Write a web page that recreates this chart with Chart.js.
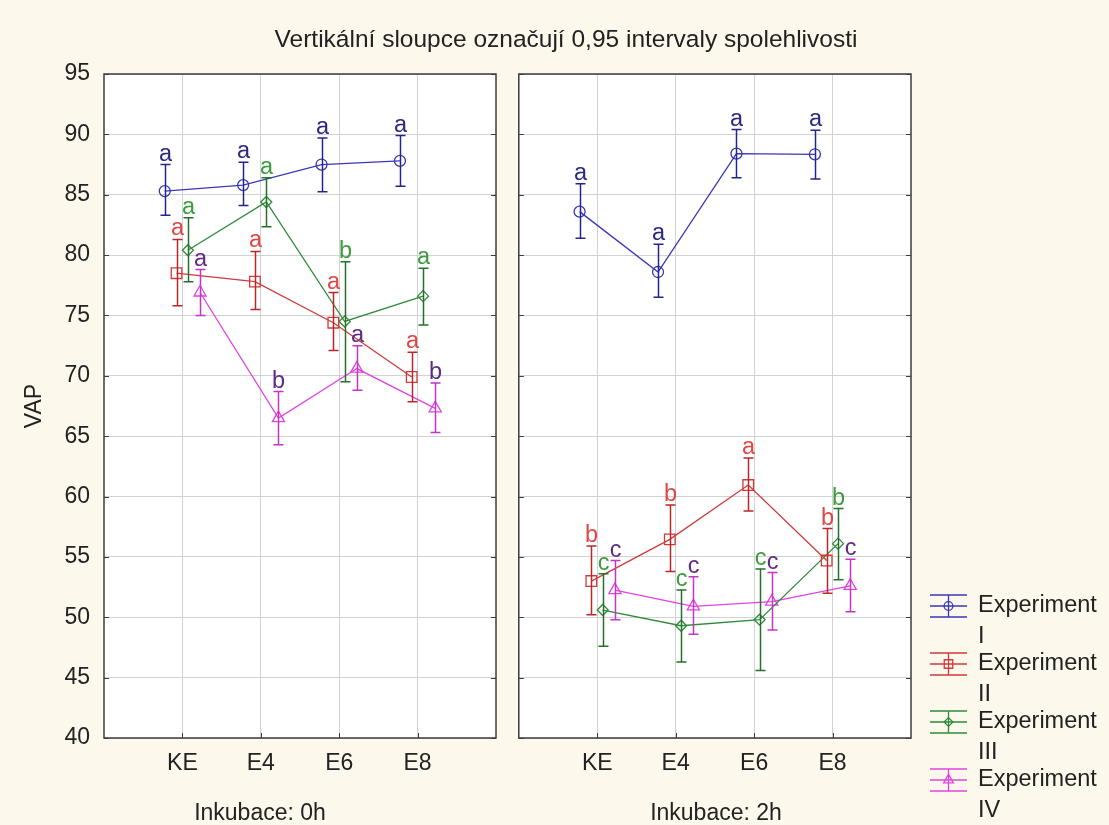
<!DOCTYPE html>
<html>
<head>
<meta charset="utf-8">
<script src="https://cdn.jsdelivr.net/npm/chart.js@4.4.0/dist/chart.umd.min.js"></script>
<style>
    html, body { margin: 0; padding: 0; }
    body {
        width: 1109px; height: 825px; overflow: hidden; position: relative;
        background: #fcf8ec; color: #222;
        font-family: "Liberation Sans", Arial, sans-serif;
    }
    .wrap { position: absolute; top: 0; }
    #wrapA { left: 0; width: 510px; height: 825px; }
    #wrapB { left: 510px; width: 599px; height: 825px; }
    .txt { position: absolute; white-space: nowrap; transform: translateX(-50%); }
    #title { left: 566px; top: 27px; font-size: 24.5px; line-height: 24px; }
    #sub0 { left: 260px; top: 801px; font-size: 23px; line-height: 23px; }
    #sub2 { left: 716px; top: 801px; font-size: 23px; line-height: 23px; }
</style>
</head>
<body>
<div class="wrap" id="wrapA"><canvas id="chart0h" width="510" height="825"></canvas></div>
<div class="wrap" id="wrapB"><canvas id="chart2h" width="599" height="825"></canvas></div>
<div class="txt" id="title">Vertikální sloupce označují 0,95 intervaly spolehlivosti</div>
<div class="txt" id="sub0">Inkubace: 0h</div>
<div class="txt" id="sub2">Inkubace: 2h</div>

<script>
// ===== Data =====
const categories = ['KE', 'E4', 'E6', 'E8'];
const yMin = 40, yMax = 95, yStep = 5;
const seriesNames = [['Experiment', 'I'], ['Experiment', 'II'], ['Experiment', 'III'], ['Experiment', 'IV']];
const xOffsets = [-0.225, -0.075, 0.07, 0.225];

// Inkubace: 0h
const mean0I   = [85.3, 85.8, 87.5, 87.8];
const low0I    = [83.3, 84.1, 85.25, 85.7];
const high0I   = [87.5, 87.7, 89.7, 89.9];
const sig0I    = ['a', 'a', 'a', 'a'];

const mean0II  = [78.5, 77.8, 74.4, 69.9];
const low0II   = [75.8, 75.5, 72.1, 67.85];
const high0II  = [81.3, 80.3, 76.9, 71.95];
const sig0II   = ['a', 'a', 'a', 'a'];

const mean0III = [80.4, 84.4, 74.5, 76.6];
const low0III  = [77.8, 82.35, 69.5, 74.2];
const high0III = [83.1, 86.4, 79.45, 78.9];
const sig0III  = ['a', 'a', 'b', 'a'];

const mean0IV  = [76.9, 66.5, 70.6, 67.3];
const low0IV   = [75.0, 64.3, 68.8, 65.3];
const high0IV  = [78.8, 68.7, 72.5, 69.4];
const sig0IV   = ['a', 'b', 'a', 'b'];

// Inkubace: 2h
const mean2I   = [83.6, 78.6, 88.4, 88.35];
const low2I    = [81.4, 76.5, 86.4, 86.3];
const high2I   = [85.9, 80.9, 90.4, 90.35];
const sig2I    = ['a', 'a', 'a', 'a'];

const mean2II  = [53.0, 56.45, 60.95, 54.7];
const low2II   = [50.2, 53.8, 58.8, 52.0];
const high2II  = [55.9, 59.3, 63.2, 57.35];
const sig2II   = ['b', 'b', 'a', 'b'];

const mean2III = [50.6, 49.3, 49.8, 56.1];
const low2III  = [47.6, 46.3, 45.6, 53.1];
const high2III = [53.6, 52.25, 54.0, 59.0];
const sig2III  = ['c', 'c', 'c', 'b'];

const mean2IV  = [52.25, 50.9, 51.3, 52.6];
const low2IV   = [49.8, 48.6, 48.95, 50.45];
const high2IV  = [54.7, 53.35, 53.7, 54.8];
const sig2IV   = ['c', 'c', 'c', 'c'];

// ===== Styles =====
const lineColors   = ['#3838b8', '#d23a3a', '#2f8a3a', '#e044e0'];
const barColors    = ['#24248a', '#b82828', '#24702c', '#c634c6'];
const letterColors = ['#2a2a7e', '#e04848', '#3c9c3c', '#5e2c82'];
const pointStyles  = ['circle', 'rect', 'rectRot', 'triangle'];
const pointSizes   = [5.5, 7.5, 5.5, 7];
const FONT = '"Liberation Sans", Arial, sans-serif';
const TEXT = '#222';

function buildDatasets(means, lows, highs, sigs) {
    return means.map((m, s) => ({
        label: seriesNames[s].join(' '),
        data: m.map((v, i) => ({ x: i + 1 + xOffsets[s], y: v })),
        lows: lows[s],
        highs: highs[s],
        sigs: sigs[s],
        series: s,
        borderColor: lineColors[s],
        borderWidth: 1.3,
        tension: 0,
        pointStyle: pointStyles[s],
        pointRadius: pointSizes[s],
        pointBorderColor: lineColors[s],
        pointBorderWidth: 1.3,
        pointBackgroundColor: 'rgba(0,0,0,0)'
    }));
}

function drawMarker(ctx, style, r, x, y) {
    ctx.beginPath();
    if (style === 'circle') {
        ctx.arc(x, y, r, 0, Math.PI * 2);
    } else if (style === 'rect') {
        const h = r * Math.SQRT1_2;
        ctx.rect(x - h, y - h, 2 * h, 2 * h);
    } else if (style === 'rectRot') {
        ctx.moveTo(x, y - r); ctx.lineTo(x + r, y); ctx.lineTo(x, y + r); ctx.lineTo(x - r, y); ctx.closePath();
    } else {
        const a = Math.PI / 6;
        ctx.moveTo(x, y - r);
        ctx.lineTo(x + r * Math.cos(a), y + r * Math.sin(a));
        ctx.lineTo(x - r * Math.cos(a), y + r * Math.sin(a));
        ctx.closePath();
    }
    ctx.stroke();
}

// ===== Plugin: panel background, error bars, letters, frame, legend =====
const panelDecor = {
    id: 'panelDecor',
    beforeDraw(chart) {
        const { ctx, chartArea: a } = chart;
        ctx.save();
        ctx.fillStyle = '#ffffff';
        ctx.fillRect(a.left, a.top, a.right - a.left, a.bottom - a.top);
        ctx.restore();
    },
    afterDatasetsDraw(chart) {
        const { ctx, scales: { x, y } } = chart;
        ctx.save();
        chart.data.datasets.forEach(ds => {
            ds.data.forEach((p, i) => {
                const px = Math.round(x.getPixelForValue(p.x)) + 0.5;
                const top = y.getPixelForValue(ds.highs[i]);
                const bot = y.getPixelForValue(ds.lows[i]);
                ctx.strokeStyle = barColors[ds.series];
                ctx.lineWidth = 1.5;
                ctx.beginPath();
                ctx.moveTo(px, top); ctx.lineTo(px, bot);
                ctx.moveTo(px - 5, top); ctx.lineTo(px + 5, top);
                ctx.moveTo(px - 5, bot); ctx.lineTo(px + 5, bot);
                ctx.stroke();

                ctx.fillStyle = letterColors[ds.series];
                ctx.font = `23.5px ${FONT}`;
                ctx.textAlign = 'center';
                ctx.textBaseline = 'alphabetic';
                ctx.fillText(ds.sigs[i], px, top - 4);
            });
        });
        ctx.restore();
    },
    afterDraw(chart, args, opts) {
        const { ctx, chartArea: a, scales: { x, y } } = chart;
        ctx.save();
        ctx.strokeStyle = '#3c3c3c';
        ctx.lineWidth = 1.5;
        ctx.strokeRect(a.left, a.top, a.right - a.left, a.bottom - a.top);

        // inner tick marks
        ctx.lineWidth = 1;
        ctx.beginPath();
        for (let v = yMin; v <= yMax; v += yStep) {
            const py = Math.round(y.getPixelForValue(v)) + 0.5;
            ctx.moveTo(a.left, py); ctx.lineTo(a.left + 5, py);
            ctx.moveTo(a.right, py); ctx.lineTo(a.right - 5, py);
        }
        categories.forEach((c, i) => {
            const px = Math.round(x.getPixelForValue(i + 1)) + 0.5;
            ctx.moveTo(px, a.bottom); ctx.lineTo(px, a.bottom - 5);
        });
        ctx.stroke();

        if (opts.legend) {
            const sx = 420, sw = 37, tx = 468;
            seriesNames.forEach((name, s) => {
                const cy = 606 + s * 58;
                ctx.strokeStyle = lineColors[s];
                ctx.lineWidth = 1.3;
                ctx.beginPath();
                ctx.moveTo(sx, cy - 11); ctx.lineTo(sx + sw, cy - 11);
                ctx.moveTo(sx, cy); ctx.lineTo(sx + sw, cy);
                ctx.moveTo(sx, cy + 11); ctx.lineTo(sx + sw, cy + 11);
                ctx.moveTo(sx + sw / 2, cy - 11); ctx.lineTo(sx + sw / 2, cy + 11);
                ctx.stroke();
                drawMarker(ctx, pointStyles[s], pointSizes[s] * 0.8, sx + sw / 2, cy);

                ctx.fillStyle = TEXT;
                ctx.font = `23.5px ${FONT}`;
                ctx.textAlign = 'left';
                ctx.textBaseline = 'middle';
                ctx.fillText(name[0], tx, cy);
                ctx.fillText(name[1], tx, cy + 31);
            });
        }
        ctx.restore();
    }
};

function makeChart(id, datasets, isLeft) {
    return new Chart(document.getElementById(id), {
        type: 'line',
        data: { datasets },
        plugins: [panelDecor],
        options: {
            responsive: false,
            animation: false,
            layout: { padding: { left: 0, top: 74, right: isLeft ? 14 : 198, bottom: 0 } },
            plugins: {
                legend: { display: false },
                tooltip: { enabled: false },
                panelDecor: { legend: !isLeft }
            },
            scales: {
                x: {
                    type: 'linear',
                    min: 0,
                    max: 5,
                    afterBuildTicks: axis => { axis.ticks = categories.map((c, i) => ({ value: i + 1 })); },
                    afterFit: axis => { axis.height = 87; },
                    ticks: {
                        autoSkip: false,
                        maxRotation: 0,
                        padding: 12,
                        color: TEXT,
                        font: { family: FONT, size: 23 },
                        callback: v => categories[Math.round(v) - 1] || ''
                    },
                    grid: { color: '#d2d2d2', lineWidth: 1, drawTicks: false },
                    border: { display: false }
                },
                y: {
                    min: yMin,
                    max: yMax,
                    afterFit: axis => { axis.width = isLeft ? 104 : 8; },
                    ticks: {
                        display: isLeft,
                        stepSize: yStep,
                        padding: 14,
                        color: TEXT,
                        font: { family: FONT, size: 23 }
                    },
                    grid: { color: '#d2d2d2', lineWidth: 1, drawTicks: false },
                    border: { display: false },
                    title: {
                        display: isLeft,
                        text: 'VAP',
                        color: TEXT,
                        font: { family: FONT, size: 23 },
                        padding: { top: 21, bottom: 0 }
                    }
                }
            }
        }
    });
}

makeChart('chart0h', buildDatasets(
    [mean0I, mean0II, mean0III, mean0IV],
    [low0I, low0II, low0III, low0IV],
    [high0I, high0II, high0III, high0IV],
    [sig0I, sig0II, sig0III, sig0IV]), true);

makeChart('chart2h', buildDatasets(
    [mean2I, mean2II, mean2III, mean2IV],
    [low2I, low2II, low2III, low2IV],
    [high2I, high2II, high2III, high2IV],
    [sig2I, sig2II, sig2III, sig2IV]), false);
</script>
</body>
</html>
